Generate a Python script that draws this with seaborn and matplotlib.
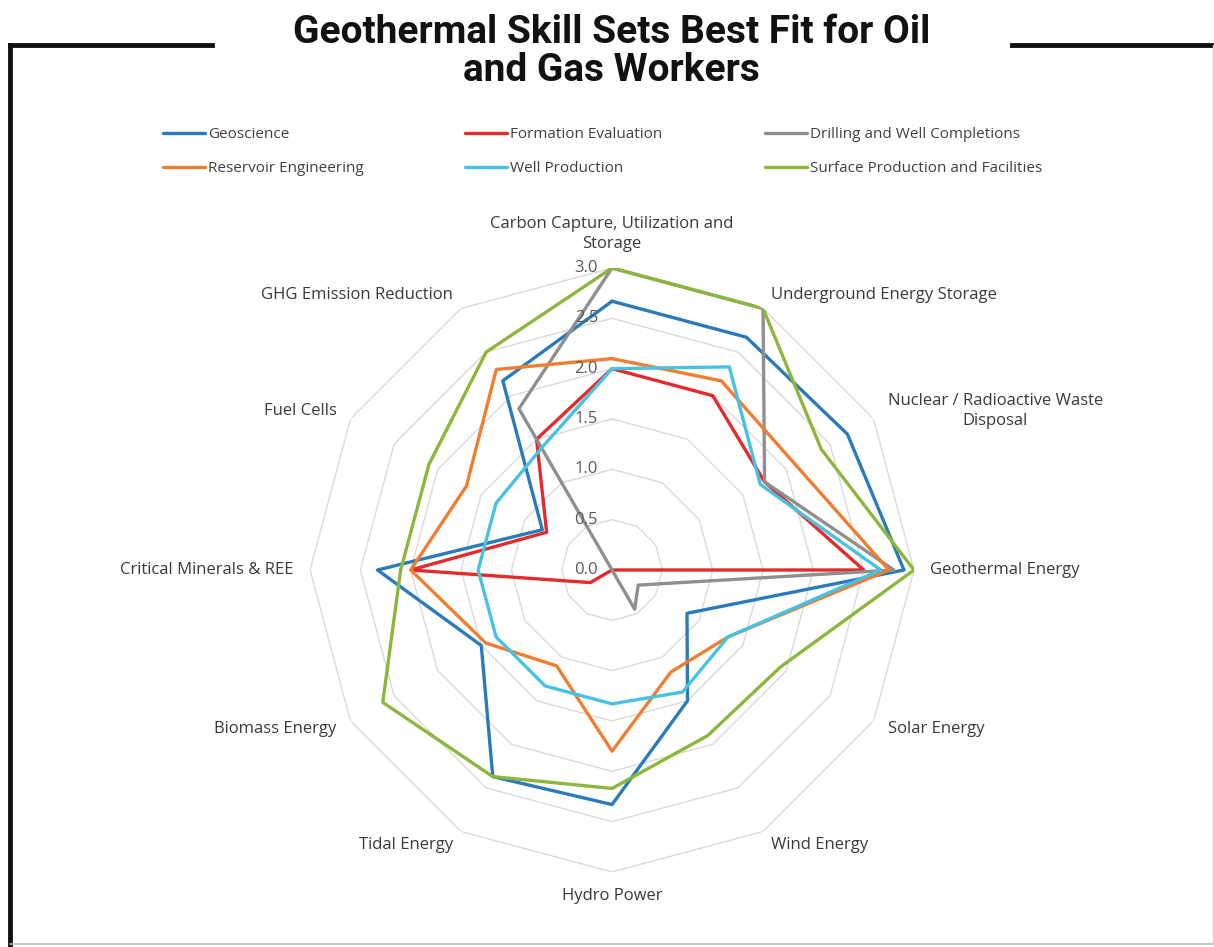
import numpy as np
import pandas as pd
import seaborn as sns
import matplotlib.pyplot as plt
from matplotlib.lines import Line2D
from matplotlib.transforms import offset_copy

# categories clockwise from the top
categories = [
    "Carbon Capture, Utilization and\nStorage",
    "Underground Energy Storage",
    "Nuclear / Radioactive Waste\nDisposal",
    "Geothermal Energy",
    "Solar Energy",
    "Wind Energy",
    "Hydro Power",
    "Tidal Energy",
    "Biomass Energy",
    "Critical Minerals & REE",
    "Fuel Cells",
    "GHG Emission Reduction",
]

geoscience = [2.67, 2.67, 2.7, 2.9, 0.86, 1.5, 2.33, 2.37, 1.5, 2.33, 0.8, 2.17]
formation_evaluation = [2.0, 2.0, 1.75, 2.5, 0.0, 0.0, 0.0, 0.0, 0.25, 2.0, 0.75, 1.5]
drilling = [3.0, 3.0, 1.75, 2.8, 0.3, 0.45, 0.0, 0.0, 0.0, 0.0, 0.0, 1.85]
reservoir = [2.1, 2.17, 2.1, 2.75, 1.33, 1.17, 1.8, 1.1, 1.45, 2.0, 1.67, 2.3]
well_production = [2.0, 2.33, 1.7, 2.67, 1.33, 1.4, 1.33, 1.33, 1.33, 1.33, 1.33, 1.4]
surface = [3.0, 3.0, 2.4, 3.0, 1.93, 1.9, 2.17, 2.37, 2.63, 2.1, 2.1, 2.5]

series = {
    "Geoscience": geoscience,
    "Formation Evaluation": formation_evaluation,
    "Drilling and Well Completions": drilling,
    "Reservoir Engineering": reservoir,
    "Well Production": well_production,
    "Surface Production and Facilities": surface,
}
colors = {
    "Geoscience": "#2B7BBA",
    "Formation Evaluation": "#E42A2A",
    "Drilling and Well Completions": "#8F8F8F",
    "Reservoir Engineering": "#F17E30",
    "Well Production": "#47C2E2",
    "Surface Production and Facilities": "#8DB63C",
}

r_ticks = [0.0, 0.5, 1.0, 1.5, 2.0, 2.5, 3.0]

sns.set_theme(style="white")
plt.rcParams['font.family'] = ['Open Sans', 'DejaVu Sans']

n = len(categories)
angles = np.linspace(0, 2 * np.pi, n, endpoint=False)
closed = np.append(angles, 2 * np.pi)

# long form table, closing each polygon
rows = []
for name, vals in series.items():
    for a, v in zip(closed, vals + vals[:1]):
        rows.append({"theta": a, "value": v, "Skill": name})
df = pd.DataFrame(rows)

fig = plt.figure(figsize=(12.14, 9.47), dpi=100)
ax = fig.add_axes([0.2554, 0.0792, 0.4975, 0.6378], projection="polar")
ax.set_theta_zero_location("N")
ax.set_theta_direction(-1)

# polygon grid
for r in r_ticks[1:]:
    ax.plot(closed, [r] * len(closed), color="#DADADA", lw=1.0, zorder=1)

sns.lineplot(data=df, x="theta", y="value", hue="Skill", palette=colors,
             sort=False, estimator=None, lw=2.4, ax=ax, legend=True, zorder=3)

ax.set_ylim(0, 3)
ax.grid(False)
ax.spines["polar"].set_visible(False)
ax.set_xticks([])
ax.set_yticks([])
ax.set_xlabel("")
ax.set_ylabel("")
ax.patch.set_alpha(0)

# value labels along the top axis
tick_tr = offset_copy(ax.transData, fig=fig, x=-14, y=0, units="dots")
for r in r_ticks:
    ax.text(0, r, f"{r:.1f}", transform=tick_tr, ha="right", va="center",
            fontsize=12, color="#595959", zorder=4)

# category labels
for a, lab in zip(angles, categories):
    deg = np.degrees(a)
    if np.isclose(deg, 0):
        ha, va = "center", "bottom"
    elif np.isclose(deg, 180):
        ha, va = "center", "top"
    elif deg < 180:
        ha, va = "left", "center"
    else:
        ha, va = "right", "center"
    ax.text(a, 3.16, lab, ha=ha, va=va, fontsize=12, color="#3A3A3A",
            multialignment="center", linespacing=1.35)

# legend in three columns
handles, labels = ax.get_legend_handles_labels()
ax.get_legend().remove()
cols = [["Geoscience", "Reservoir Engineering"],
        ["Formation Evaluation", "Well Production"],
        ["Drilling and Well Completions", "Surface Production and Facilities"]]
for x0, col in zip([163 / 1214, 465 / 1214, 765 / 1214], cols):
    hs = [Line2D([], [], color=colors[c], lw=2.4) for c in col]
    leg = fig.legend(hs, col, loc="upper left", bbox_to_anchor=(x0, 1 - 127 / 947),
                     frameon=False, fontsize=11, handlelength=2.75,
                     handletextpad=0.2, labelspacing=1.25, borderpad=0,
                     borderaxespad=0)
    for t in leg.get_texts():
        t.set_color("#404040")

# title and frame
fig.text(0.504, 1 - 14 / 947, "Geothermal Skill Sets Best Fit for Oil\nand Gas Workers",
         ha="center", va="top", fontsize=28, fontweight="bold",
         family=["Roboto", "DejaVu Sans"], linespacing=1.02, color="#111111")
W, H = 1214, 947
frame = [([10 / W, 212 / W], [1 - 45 / H, 1 - 45 / H]),
         ([1012 / W, 1.0], [1 - 45 / H, 1 - 45 / H]),
         ([10 / W, 10 / W], [1 - 45 / H, 2 / H])]
for xs, ys in frame:
    fig.add_artist(Line2D(xs, ys, color="#111111", lw=3.5,
                          transform=fig.transFigure, solid_capstyle="projecting"))
fig.add_artist(Line2D([10 / W, 1.0], [3 / H, 3 / H], color="#BDBDBD", lw=1.2,
                      transform=fig.transFigure))
fig.add_artist(Line2D([1 - 1.5 / W, 1 - 1.5 / W], [3 / H, 1 - 45 / H],
                      color="#D0D0D0", lw=1.0, transform=fig.transFigure))

fig.savefig("out.png", dpi=100, facecolor="white")
